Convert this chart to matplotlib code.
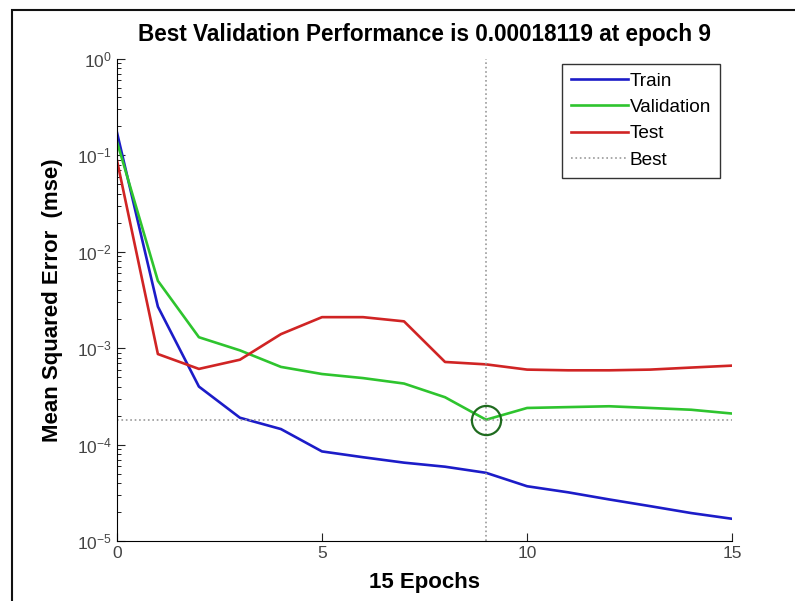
import matplotlib
matplotlib.use('Agg')
import matplotlib.pyplot as plt
from matplotlib.patches import Rectangle
from matplotlib.ticker import LogLocator, NullFormatter

plt.rcParams['font.family'] = ['Liberation Sans', 'DejaVu Sans']
plt.rcParams['mathtext.default'] = 'regular'

# performance per epoch
epochs = list(range(16))
train = [0.175, 2.7e-3, 4.0e-4, 1.9e-4, 1.45e-4, 8.5e-5, 7.4e-5, 6.5e-5,
         5.9e-5, 5.1e-5, 3.7e-5, 3.2e-5, 2.7e-5, 2.3e-5, 1.95e-5, 1.7e-5]
validation = [0.14, 5.0e-3, 1.3e-3, 9.5e-4, 6.4e-4, 5.4e-4, 4.9e-4, 4.3e-4,
              3.1e-4, 1.8119e-4, 2.4e-4, 2.45e-4, 2.5e-4, 2.4e-4, 2.3e-4, 2.1e-4]
test = [0.09, 8.7e-4, 6.1e-4, 7.6e-4, 1.4e-3, 2.1e-3, 2.1e-3, 1.9e-3,
        7.2e-4, 6.8e-4, 6.0e-4, 5.9e-4, 5.9e-4, 6.0e-4, 6.3e-4, 6.6e-4]
best_epoch = 9
best_perf = 0.00018119

x_ticks = [0, 5, 10, 15]
y_ticks = [1e-5, 1e-4, 1e-3, 1e-2, 1e-1, 1e0]
y_labels = ['$10^{-5}$', '$10^{-4}$', '$10^{-3}$', '$10^{-2}$', '$10^{-1}$', '$10^{0}$']

fig = plt.figure(figsize=(7.95, 6.01), dpi=100)
ax = fig.add_axes([0.147, 0.0998, 0.774, 0.802])

ax.semilogy(epochs, train, color='#1c1cc8', lw=1.9, label='Train')
ax.semilogy(epochs, validation, color='#2ec42e', lw=1.9, label='Validation')
ax.semilogy(epochs, test, color='#d02424', lw=1.9, label='Test')
ax.axhline(best_perf, color='#999999', ls=':', lw=1.2, label='Best')
ax.axvline(best_epoch, color='#999999', ls=':', lw=1.2)
ax.plot([best_epoch], [best_perf], 'o', ms=21, mfc='none', mec='#1f6b1f', mew=1.6)

ax.set_xlim(0, 15)
ax.set_ylim(1e-5, 1e0)
ax.set_xticks(x_ticks)
ax.set_xticklabels([str(t) for t in x_ticks])
ax.set_yticks(y_ticks)
ax.set_yticklabels(y_labels)
ax.yaxis.set_minor_locator(LogLocator(base=10, subs=range(2, 10)))
ax.yaxis.set_minor_formatter(NullFormatter())
ax.tick_params(direction='in', labelsize=12.5, colors='#222222', labelcolor='#444444')
ax.tick_params(which='major', length=6)
ax.tick_params(which='minor', direction='in', length=3)
ax.spines['top'].set_visible(False)
ax.spines['right'].set_visible(False)

ax.set_title('Best Validation Performance is 0.00018119 at epoch 9',
             fontsize=16.3, fontweight='bold', pad=13)
ax.set_xlabel('15 Epochs', fontsize=16, fontweight='bold', labelpad=8)
ax.set_ylabel('Mean Squared Error  (mse)', fontsize=16, fontweight='bold', labelpad=10)

leg = ax.legend(loc='upper right', bbox_to_anchor=(0.995, 1.01), fontsize=13.7,
                handlelength=3.0, handletextpad=0.1, borderpad=0.45,
                labelspacing=0.48, fancybox=False, framealpha=1)
leg.get_frame().set_edgecolor('#333333')
leg.get_frame().set_linewidth(1.0)

# outer frame (only top and left visible inside the image)
fig.patches.append(Rectangle((12 / 795, -0.2), 1.2, 1.2 - 10 / 601,
                             transform=fig.transFigure, fill=False,
                             edgecolor='#111111', lw=1.5))

fig.savefig('out.png', dpi=100)
